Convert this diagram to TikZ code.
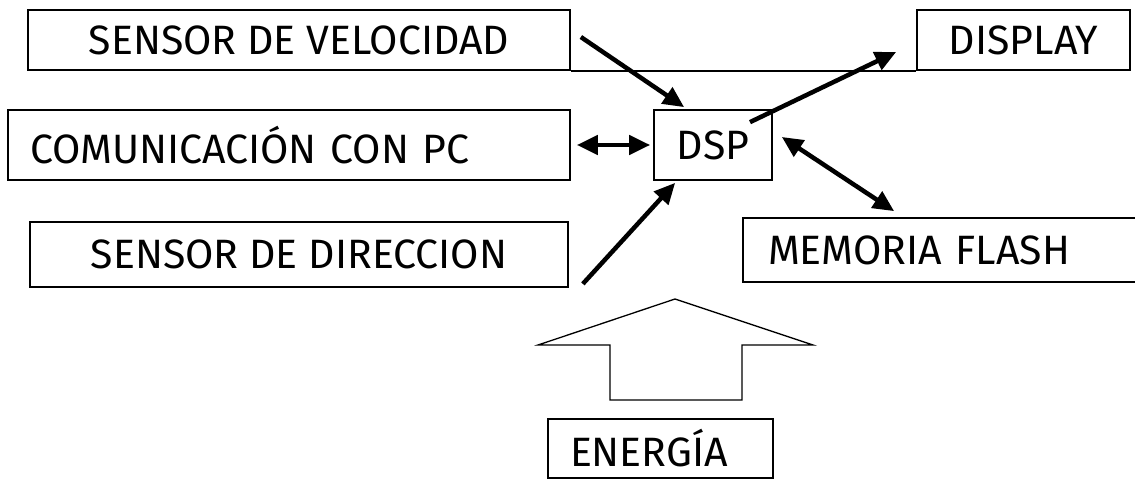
\documentclass[tikz,border=0pt]{standalone}
\usepackage{fontspec}
\setmainfont{Fira Sans}
\usetikzlibrary{arrows.meta}
\tikzset{
  blk/.style={draw=black, line width=1.7pt, inner sep=0pt, font=\fontsize{41}{45}\selectfont},
  arr/.style={line width=4.5pt, -{Triangle[length=21pt,width=19pt]}},
  darr/.style={line width=4.5pt, {Triangle[length=21pt,width=19pt]}-{Triangle[length=21pt,width=19pt]}},
}

\begin{document}
\begin{tikzpicture}[x=1pt,y=-1pt]
    \useasboundingbox (0,0) rectangle (1135,481);

    \node[blk, minimum width=542pt, minimum height=60pt] (vel) at (299,40) {SENSOR DE VELOCIDAD};
    \node[blk, minimum width=213pt, minimum height=60pt] (disp) at (1023.5,40) {DISPLAY};
    \node[blk, minimum width=562pt, minimum height=70pt, text width=518pt, align=left] (com) at (289,145) {COMUNICACIÓN CON PC};
    \node[blk, minimum width=118pt, minimum height=70pt] (dsp) at (713,145) {DSP};
    \node[blk, minimum width=538pt, minimum height=65pt] (dir) at (299,254.5) {SENSOR DE DIRECCION};
    \node[blk, minimum width=397pt, minimum height=64pt, text width=347pt, align=left] (mem) at (941.5,250) {MEMORIA FLASH};
    \node[blk, minimum width=225pt, minimum height=59pt, text width=181pt, align=left] (ene) at (660.5,448.5) {ENERGÍA};

    \draw[line width=1.7pt] (vel.south east) -- (disp.south west);

    \draw[arr] ([xshift=10pt,yshift=3pt]vel.east) -- ([xshift=31pt,yshift=2pt]dsp.north west);
    \draw[arr] ([xshift=37pt,yshift=-13pt]dsp.north) -- ([xshift=-20pt,yshift=-12pt]disp.west);
    \draw[darr] ([xshift=6pt]com.east) -- ([xshift=-3pt]dsp.west);
    \draw[arr] ([xshift=14pt,yshift=4pt]dir.south east) -- ([xshift=22pt,yshift=-2pt]dsp.south west);
    \draw[darr] ([xshift=9pt,yshift=8pt]dsp.east) -- ([xshift=152pt,yshift=6pt]mem.north west);

    % big arrow
    \draw[line width=1.3pt] (675,299) -- (813,345) -- (742,345) -- (742,400)
        -- (610,400) -- (610,345) -- (538,345) -- cycle;

\end{tikzpicture}
\end{document}
